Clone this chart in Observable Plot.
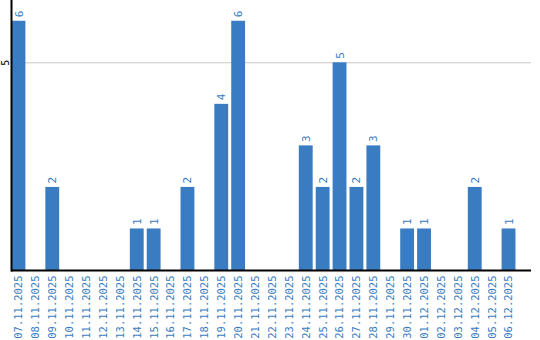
<!DOCTYPE html>
<html>
<head>
<meta charset="utf-8">
<script src="https://cdn.jsdelivr.net/npm/d3@7"></script>
<script src="https://cdn.jsdelivr.net/npm/@observablehq/plot@0.6"></script>
<style>
  html, body { margin: 0; padding: 0; background: #fff; overflow: hidden; }
</style>
</head>
<body>
<div id="chart"></div>
<script>
const dates = ["07.11.2025","08.11.2025","09.11.2025","10.11.2025","11.11.2025","12.11.2025","13.11.2025","14.11.2025","15.11.2025","16.11.2025","17.11.2025","18.11.2025","19.11.2025","20.11.2025","21.11.2025","22.11.2025","23.11.2025","24.11.2025","25.11.2025","26.11.2025","27.11.2025","28.11.2025","29.11.2025","30.11.2025","01.12.2025","02.12.2025","03.12.2025","04.12.2025","05.12.2025","06.12.2025"];
const counts = [6,0,2,0,0,0,0,1,1,0,2,0,4,6,0,0,0,3,2,5,2,3,0,1,1,0,0,2,0,1];
const yTicks = [5];

const data = dates.map((d, i) => ({date: d, value: counts[i]}));
const nonzero = data.filter(d => d.value > 0);
const blue = "#3a7cc1";

const chart = Plot.plot({
  width: 540,
  height: 340,
  marginLeft: 11,
  marginRight: 9,
  marginTop: 0,
  marginBottom: 70,
  style: {fontFamily: "'DejaVu Sans Mono', monospace", fontSize: "10.5px", background: "#fff"},
  x: {domain: dates, range: [8.5, 518.5], padding: 0.18, round: false, label: null},
  y: {domain: [0, 6.5], label: null},
  marks: [
    Plot.ruleY(yTicks, {stroke: "#c8c8c8", strokeWidth: 1}),
    Plot.barY(data, {x: "date", y: "value", fill: blue}),
    Plot.text(nonzero, {x: "date", y: "value", text: d => String(d.value), rotate: -90, textAnchor: "start", dy: -4, fill: blue, fontSize: 11}),
    Plot.axisX({tickSize: 0, tickRotate: -90, textAnchor: "end", tickPadding: 5, fill: blue, fontSize: 10.5, label: null}),
    Plot.axisY({ticks: yTicks, tickFormat: "d", tickSize: 0, tickRotate: -90, tickPadding: 3, fill: "#000", fontSize: 10, label: null, textAnchor: "middle"}),
    Plot.ruleY([0], {stroke: "#000", strokeWidth: 2}),
    Plot.frame({anchor: "left", stroke: "#000", strokeWidth: 2})
  ]
});
document.getElementById("chart").appendChild(chart);
</script>
</body>
</html>
